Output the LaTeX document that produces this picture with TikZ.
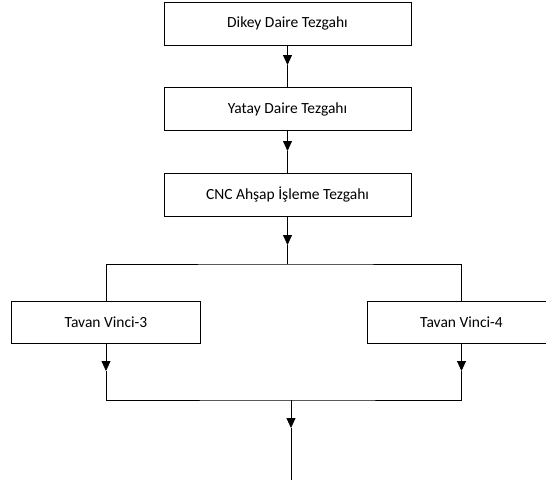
\documentclass[tikz,border=0pt]{standalone}
\usepackage{fontspec}
\setmainfont{Carlito}
\usetikzlibrary{arrows.meta}
\begin{document}
\begin{tikzpicture}[x=1pt,y=-1pt,>={Triangle[length=10pt,width=9pt]},
  box/.style={draw,line width=1pt,minimum width=247pt,minimum height=43pt,
    inner sep=0pt,font=\fontsize{15.5}{18}\selectfont},
  vinci/.style={box,minimum width=189pt,minimum height=42pt},
  line/.style={line width=0.8pt}]
  \useasboundingbox (0,0) rectangle (546,485);
  \clip (0,0) rectangle (546,485);
  % main chain
  \node[box] (dikey) at (287.5,23.5) {Dikey Daire Tezgahı};
  \node[box] (yatay) at (287.5,109) {Yatay Daire Tezgahı};
  \node[box] (cnc) at (287.5,194.5) {CNC Ahşap İşleme Tezgahı};
  \node[vinci] (vinci3) at (106,322) {Tavan Vinci-3};
  \node[vinci] (vinci4) at (461.5,322) {Tavan Vinci-4};
  % junctions and arrow tips
  \coordinate (t1) at (287.5,65);
  \coordinate (t2) at (287.5,151);
  \coordinate (t3) at (287.5,245);
  \coordinate (split) at (287.5,264);
  \coordinate (t4) at (106,371);
  \coordinate (t5) at (461.5,371);
  \coordinate (join) at (291,400);
  \coordinate (t6) at (291,428);
  \coordinate (out) at (291,480);
  \draw[line,->] (dikey.south) -- (t1);
  \draw[line] (t1) -- (yatay.north);
  \draw[line,->] (yatay.south) -- (t2);
  \draw[line] (t2) -- (cnc.north);
  \draw[line,->] (cnc.south) -- (t3);
  \draw[line] (t3) -- (split);
  \draw[line] (vinci3.north) |- (split) -| (vinci4.north);
  \draw[line,->] (vinci3.south) -- (t4);
  \draw[line,->] (vinci4.south) -- (t5);
  \draw[line] (t4) |- (join) -| (t5);
  \draw[line,->] (join) -- (t6);
  \draw[line] (t6) -- (out);
\end{tikzpicture}
\end{document}
